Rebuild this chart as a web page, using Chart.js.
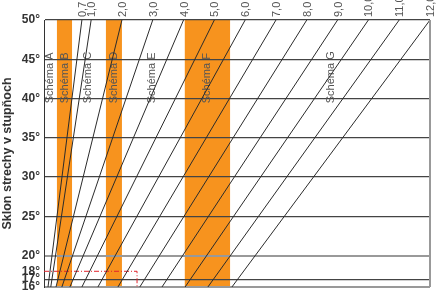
<!DOCTYPE html>
<html>
<head>
<meta charset="utf-8">
<script src="https://cdn.jsdelivr.net/npm/chart.js@4.4.1/dist/chart.umd.min.js"></script>
<style>
  html, body { margin: 0; padding: 0; background: #fff; }
  #wrap { width: 438px; height: 292px; }
</style>
</head>
<body>
<div id="wrap"><canvas id="chart"></canvas></div>
<script>
// y axis: roof slope in degrees
const slopeTicks = [16, 17, 18, 20, 25, 30, 35, 40, 45, 50];
const slopeMin = 16;
const slopeMax = 50;

// diagonal lines: label at the top, position at 50° and at 16°
const lineLabels = ['0,7', '1,0', '2,0', '3,0', '4,0', '5,0', '6,0', '7,0', '8,0', '9,0', '10,0', '11,0', '12,0'];
const lineTop = [0.7, 1, 2, 3, 4, 5, 6, 7, 8, 9, 10, 11, 12];
const lineBottom = [-0.40, -0.31, -0.14, 0.05, 0.31, 0.70, 1.22, 1.87, 2.58, 3.30, 4.05, 4.79, 5.57];

// orange schema bands
const bandFrom = [-0.11, 1.48, 4.04];
const bandTo = [0.38, 2.0, 5.51];

// schema names
const schemaNames = ['Schéma A', 'Schéma B', 'Schéma C', 'Schéma D', 'Schéma E', 'Schéma F', 'Schéma G'];
const schemaX = [-0.34, 0.15, 0.90, 1.74, 2.97, 4.76, 8.79];
const schemaSlope = 39.4;

// red reading example
const markSlope = 18;
const markX = 2.49;

const xMin = -0.53;
const xMax = 12;

const datasets = lineTop.map((top, i) => ({
    data: [{ x: top, y: slopeMax }, { x: lineBottom[i], y: slopeMin }],
    borderColor: '#2b2b2b',
    borderWidth: 1,
    pointRadius: 0,
    showLine: true
}));

datasets.push({
    data: [{ x: xMin, y: markSlope }, { x: markX, y: markSlope }, { x: markX, y: slopeMin }],
    borderColor: '#e2242c',
    borderWidth: 1,
    borderDash: [5, 2, 1, 2],
    pointRadius: 0,
    showLine: true
});

// bands under the grid, texts and labels on top
const decor = {
    id: 'decor',
    beforeDraw(chart) {
        const { ctx, chartArea, scales } = chart;
        ctx.save();
        ctx.fillStyle = '#fff';
        ctx.fillRect(0, 0, chart.width, chart.height);
        ctx.fillStyle = '#f7931e';
        bandFrom.forEach((from, i) => {
            const x1 = scales.x.getPixelForValue(from);
            const x2 = scales.x.getPixelForValue(bandTo[i]);
            ctx.fillRect(x1, chartArea.top, x2 - x1, chartArea.bottom - chartArea.top);
        });
        ctx.restore();
    },
    beforeDatasetsDraw(chart) {
        const { ctx, scales } = chart;
        ctx.save();
        ctx.font = '11px "Liberation Sans", Arial, sans-serif';
        ctx.fillStyle = '#555';
        ctx.textAlign = 'left';
        ctx.textBaseline = 'middle';
        schemaNames.forEach((name, i) => {
            ctx.save();
            ctx.translate(scales.x.getPixelForValue(schemaX[i]), scales.y.getPixelForValue(schemaSlope));
            ctx.rotate(-Math.PI / 2);
            ctx.fillText(name, 0, 0);
            ctx.restore();
        });
        ctx.restore();
    },
    afterDraw(chart) {
        const { ctx, chartArea, scales } = chart;
        ctx.save();
        // right border
        ctx.strokeStyle = '#999';
        ctx.lineWidth = 2;
        ctx.beginPath();
        ctx.moveTo(chartArea.right, chartArea.top);
        ctx.lineTo(chartArea.right, chartArea.bottom);
        ctx.stroke();
        // top labels
        ctx.font = '11px "Liberation Sans", Arial, sans-serif';
        ctx.fillStyle = '#555';
        ctx.textAlign = 'left';
        ctx.textBaseline = 'middle';
        lineLabels.forEach((label, i) => {
            ctx.save();
            ctx.translate(scales.x.getPixelForValue(lineTop[i]) + 1, chartArea.top - 3);
            ctx.rotate(-Math.PI / 2);
            ctx.fillText(label, 0, 0);
            ctx.restore();
        });
        ctx.restore();
    }
};

new Chart(document.getElementById('chart'), {
    type: 'scatter',
    data: { datasets: datasets },
    options: {
        responsive: true,
        maintainAspectRatio: false,
        animation: false,
        layout: { padding: { top: 20, right: 8, bottom: 5, left: 0 } },
        plugins: {
            legend: { display: false },
            tooltip: { enabled: false }
        },
        scales: {
            x: {
                type: 'linear',
                min: xMin,
                max: xMax,
                display: false
            },
            y: {
                type: 'linear',
                min: slopeMin,
                max: slopeMax,
                afterBuildTicks: (scale) => {
                    scale.ticks = slopeTicks.map(v => ({ value: v }));
                },
                afterFit: (scale) => {
                    scale.width = 44;
                    scale.paddingTop = 0;
                    scale.paddingBottom = 0;
                },
                ticks: {
                    callback: (v) => v + '°',
                    color: '#333',
                    padding: 4,
                    font: { family: '"Liberation Sans", Arial, sans-serif', size: 12, weight: 'bold' }
                },
                grid: {
                    drawTicks: false,
                    color: (c) => {
                        const v = c.tick ? c.tick.value : null;
                        if (v === 18) return 'rgba(0,0,0,0)';
                        if (v === 20 || v === 16) return '#999';
                        return '#444';
                    },
                    lineWidth: (c) => {
                        const v = c.tick ? c.tick.value : null;
                        return (v === 20 || v === 16) ? 2 : 1.2;
                    }
                },
                border: { display: true, color: '#333', width: 1 },
                title: {
                    display: true,
                    text: 'Sklon strechy v stupňoch',
                    color: '#333',
                    padding: 0,
                    font: { family: '"Liberation Sans", Arial, sans-serif', size: 12.5, weight: 'bold' }
                }
            }
        }
    },
    plugins: [decor]
});
</script>
</body>
</html>
